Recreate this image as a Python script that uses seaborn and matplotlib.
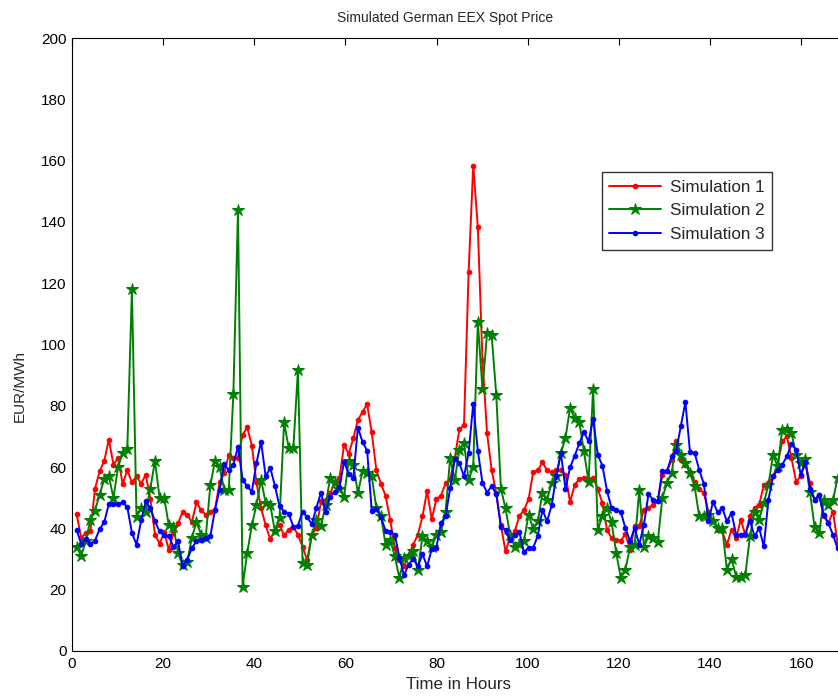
import numpy as np
import pandas as pd
import matplotlib
matplotlib.use("Agg")
import matplotlib.pyplot as plt
import seaborn as sns

sim1 = [44.7, 37, 38.5, 39, 53, 58.6, 62, 69, 60.8, 63, 54.5, 59, 55, 57, 54.6, 57.5, 49.6, 38, 35, 38.7,
        33, 38.5, 41.7, 45.3, 44.5, 42, 48.5, 46, 44.5, 45.5, 46, 55, 58, 64, 63, 63, 70.5, 73, 67, 55,
        46.6, 41, 36.5, 39.3, 41.2, 37.7, 39.6, 40.4, 38, 34, 29.7, 38, 40, 48.8, 49.3, 51.5, 55.3, 56.4, 67.3, 64.3,
        69.4, 75.4, 78, 80.5, 71.3, 59, 54.6, 50.6, 42.8, 33.5, 29.8, 27.6, 31.4, 34.7, 38, 43.9, 52.3, 43, 49.5, 50.7,
        54.7, 56, 63, 72.3, 73.8, 123.5, 158.4, 138.4, 95, 71, 59, 51.5, 41, 32.5, 37, 39, 44, 46, 49.5, 58.3,
        58.9, 61.6, 58.9, 58.4, 58.9, 59.1, 57.5, 48.6, 54.2, 56.1, 56.6, 55.9, 56.6, 52.9, 48.3, 39.6, 36.8, 36.3, 36, 38.2,
        33, 40.7, 40.7, 46.1, 46.6, 47.7, 48.8, 57.5, 58.6, 62.4, 68.4, 62.4, 60.8, 58.4, 55.3, 52.9, 51.5, 45.5, 42.3, 39.5,
        39, 34.7, 39.6, 36.8, 42.8, 37.9, 44, 46.8, 47.7, 54.2, 54.8, 57, 60.8, 68.4, 70, 63, 55.3, 57, 61.3, 54.8,
        49.3, 50.9, 43.9, 41.7, 45.5, 35.2]

sim2 = [34, 31, 35.8, 42.8, 45.8, 51, 56, 57, 50, 60, 64.7, 66, 118, 43.7, 46.6, 45.5, 53, 62, 50, 50,
        41, 40.6, 32, 28, 29, 37, 42, 38, 37, 54, 62, 60, 52.6, 52.6, 84, 144, 21, 32, 41, 47.7,
        55.9, 48.3, 47.7, 39, 43.4, 74.6, 66.2, 66.2, 91.7, 28.7, 28.2, 38, 42.8, 40.7, 47.7, 56.6, 54.8, 53, 50.4, 62,
        60.8, 51.5, 58.6, 58, 57, 46.6, 43.9, 34.7, 36.3, 30.9, 23.8, 30.3, 30.9, 32.5, 26.5, 37.4, 35.8, 34, 37.8, 38.9,
        45.5, 62.9, 55.8, 65.6, 67.8, 55.8, 60.1, 107.3, 85.5, 103.6, 103, 83.4, 53, 46.5, 38, 34, 35, 36, 44.5, 39.8,
        42.3, 51.5, 49.3, 54.8, 57, 64.6, 69.5, 79.3, 76, 74.7, 65.2, 55.3, 85.5, 39.6, 43.9, 46.8, 42, 32, 23.8, 26.5,
        34, 34.7, 52.6, 34, 37.4, 36.8, 35.5, 49.9, 54.8, 58, 67.3, 64, 61.3, 58, 53.7, 43.9, 43.9, 44.5, 42.3, 40.1,
        40.1, 26.5, 30.1, 24.3, 24.3, 24.9, 37.4, 45.5, 42.8, 48.3, 54.2, 64, 60.2, 72.2, 72.4, 71.1, 64, 61.3, 62.7, 52,
        40.6, 38.4, 49.3, 47.7, 49.3, 56.4]

sim3 = [39.6, 35, 36.6, 35, 36, 39.8, 42, 48, 48, 48, 48.5, 47, 38.5, 34.7, 42.6, 48.8, 46.6, 42.3, 39, 37.8,
        37.4, 34, 35.8, 27.6, 29.8, 33.6, 35.8, 36.3, 36.8, 37.4, 46, 52.6, 61, 59, 60.8, 66.7, 55.9, 53.7, 52, 61.3,
        68.3, 57, 59.7, 53.9, 47.2, 45.5, 44.7, 40.6, 40.9, 45.5, 43.6, 41.4, 46.8, 51.7, 45.3, 50.4, 52, 53.4, 61.8, 57.7,
        56.6, 72.9, 68.2, 65.4, 45.8, 46.3, 43.7, 39.2, 38.7, 37.9, 30.5, 24.7, 28.2, 30.1, 27.6, 31.6, 27.6, 33.2, 33.7, 41.8,
        43.9, 53.1, 62.6, 61.2, 57, 64.7, 80.6, 65.3, 54.9, 51.7, 53.8, 51.2, 40.6, 39.5, 36.2, 37.8, 38.9, 32.2, 33.7, 33.7,
        37.6, 46.1, 42.3, 47.5, 57, 64.6, 52.9, 59.9, 63.7, 67.8, 71.4, 68.4, 75.8, 64, 60.5, 52.3, 46.6, 46.1, 45.3, 40.1,
        35.8, 40.1, 34.7, 41.2, 51.2, 49.3, 48.8, 58.8, 58.6, 63.5, 65.2, 73.3, 81.2, 64.8, 64.6, 59.1, 54.5, 42.5, 48.7, 45.2,
        46.6, 42.3, 45, 37.9, 37.9, 38.2, 42.5, 37.4, 40.1, 34.1, 49.3, 57, 59.1, 60.8, 63.5, 67.5, 65.7, 57.5, 61.8, 53,
        49.3, 50.9, 44.5, 41.7, 37.9, 33.5]

series_names = ["Simulation 1", "Simulation 2", "Simulation 3"]
series_values = [sim1, sim2, sim3]
# sample times (hours) of the simulated path
hours = np.linspace(1, 168, len(sim1))
x_ticks = [0, 20, 40, 60, 80, 100, 120, 140, 160]
y_ticks = [0, 20, 40, 60, 80, 100, 120, 140, 160, 180, 200]

sns.set_style("white")
plt.rcParams['font.family'] = ['Liberation Sans', 'DejaVu Sans']

fig = plt.figure(figsize=(8.38, 6.98), dpi=100)
ax = fig.add_axes([72 / 838, 1 - 651 / 698, (837.6 - 72) / 838, (651 - 38) / 698])

styles = [dict(color=(1, 0, 0), marker='o', markersize=3.3),
          dict(color=(0, 0.5, 0), marker='*', markersize=9),
          dict(color=(0, 0, 1), marker='o', markersize=3.3)]
for name, vals, st in zip(series_names, series_values, styles):
    df = pd.DataFrame({"hour": hours[:len(vals)], "price": vals})
    sns.lineplot(data=df, x="hour", y="price", ax=ax, label=name,
                 color=st['color'], marker=st['marker'], markersize=st['markersize'],
                 markeredgecolor=st['color'], markerfacecolor=st['color'], linewidth=1.4)

ax.set_xlim(0, 168)
ax.set_ylim(0, 200)
ax.set_xticks(x_ticks)
ax.set_yticks(y_ticks)
ax.tick_params(direction='in', length=5, width=0.8, labelsize=11, top=True, right=False, colors='black', pad=4)
for s in ['left', 'top', 'bottom']:
    ax.spines[s].set_color('black')
    ax.spines[s].set_linewidth(0.8)
ax.spines['right'].set_visible(False)
ax.set_xlabel("Time in Hours", fontsize=12.2)
ax.xaxis.set_label_coords((459 - 72) / 766, (651 - 677) / 613)
ax.set_ylabel("EUR/MWh", fontsize=11)
ax.yaxis.set_label_coords((27 - 72) / 766, (651 - 386) / 613)
fig.text(445 / 838, 1 - 18 / 698, "Simulated German EEX Spot Price", ha='center', va='center', fontsize=10)

leg = ax.legend(loc='upper left', bbox_to_anchor=(0.692, 0.781), frameon=True, fancybox=False,
                edgecolor='black', fontsize=12.3, handlelength=3.0, borderpad=0.45, labelspacing=0.5,
                handletextpad=0.55, borderaxespad=0)
leg.get_frame().set_linewidth(1.0)

fig.savefig("out.png", dpi=100)
